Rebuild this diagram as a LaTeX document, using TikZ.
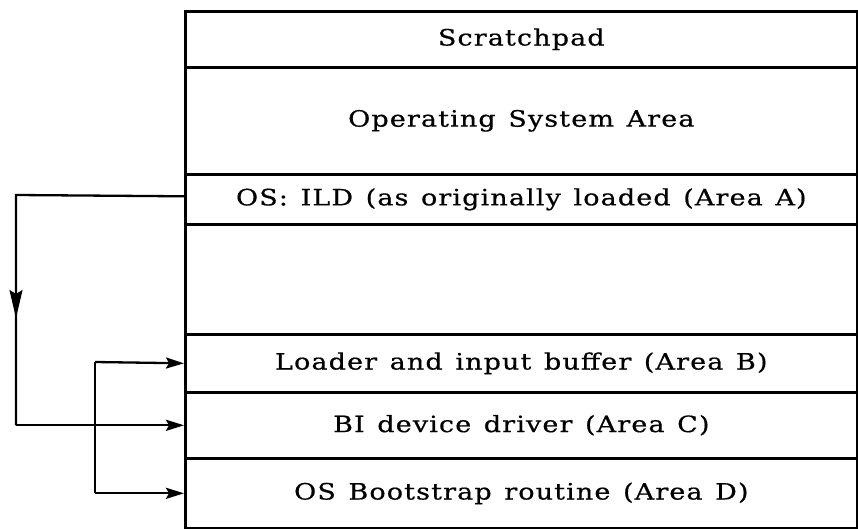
\documentclass[tikz,border=0pt]{standalone}
\usepackage{fontspec}
\setmainfont{DejaVu Serif}[FakeStretch=1.2,FakeBold=0.6,LetterSpace=5,WordSpace=1.3]
\usetikzlibrary{arrows.meta,calc}
\begin{document}
\begin{tikzpicture}[x=1pt,y=-1pt,
  row/.style={draw, line width=2.6pt, rectangle, minimum width=672pt,
    anchor=north west, inner sep=0pt, font=\fontsize{22.5}{26}\selectfont},
  link/.style={line width=2.3pt},
  tip/.style={-{Stealth[length=18pt,width=11pt,inset=3pt]}},
  downtip/.style={-{Stealth[length=28pt,width=13pt,inset=4pt]}}]
\useasboundingbox (0,0) rectangle (858,529);
% memory map, top to bottom
\node[row, minimum height=56pt]  (scratch) at (184,10)  {Scratchpad};
\node[row, minimum height=107pt] (osarea)  at (184,66)  {Operating System Area};
\node[row, minimum height=50pt]  (ild)     at (184,173) {OS: ILD (as originally loaded (Area A)};
\node[row, minimum height=110pt] (blank)   at (184,223) {};
\node[row, minimum height=58pt]  (areab)   at (184,333) {Loader and input buffer (Area B)};
\node[row, minimum height=66pt]  (areac)   at (184,391) {BI device driver (Area C)};
\node[row, minimum height=70pt]  (aread)   at (184,457) {OS Bootstrap routine (Area D)};
% relocation of the loader copy to area C
\coordinate (outer) at (16,195);
\coordinate (inner) at (95,362);
\draw[link] ($(ild.west)+(0,-3)$) -- (outer) -- (outer |- areac.west);
\draw[link, tip] (outer |- areac.west) -- (areac.west);
\draw[link, downtip] (outer) -- (16,318);
% loader B and bootstrap D
\draw[link, tip] (inner) -- (areab.west);
\draw[link] (inner) -- (inner |- aread.west);
\draw[link, tip] (inner |- aread.west) -- (aread.west);
\end{tikzpicture}
\end{document}
